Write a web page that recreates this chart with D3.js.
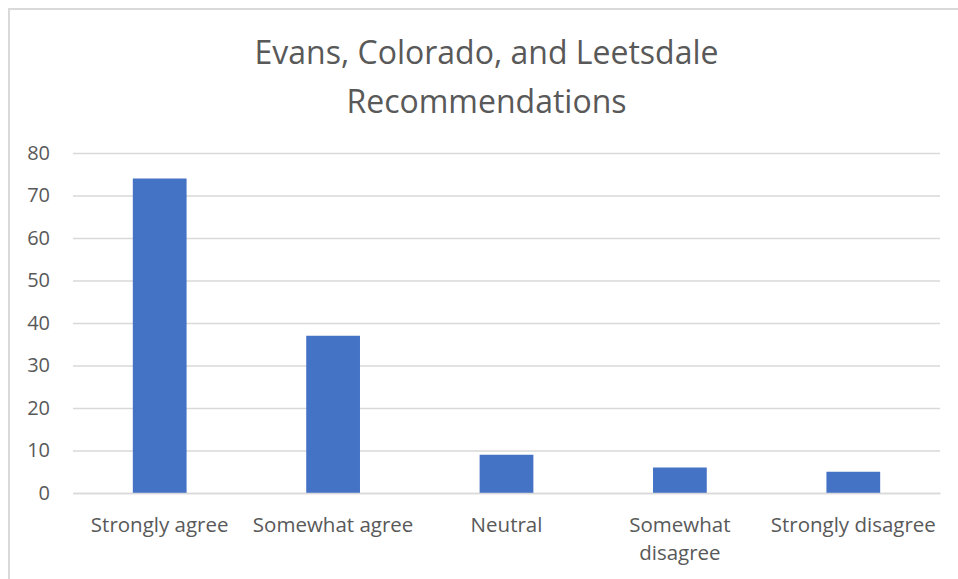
<!DOCTYPE html>
<html>
<head>
<meta charset="utf-8">
<script src="https://cdn.jsdelivr.net/npm/d3@7/dist/d3.min.js"></script>
<style>
  html, body { margin: 0; padding: 0; background: #fff; }
  svg { display: block; }
  text { font-family: "Open Sans", Lato, sans-serif; fill: #595959; }
</style>
</head>
<body>
<svg id="chart" width="958" height="579"></svg>
<script>
const titleLines = ["Evans, Colorado, and Leetsdale", "Recommendations"];
const categories = ["Strongly agree", "Somewhat agree", "Neutral", "Somewhat disagree", "Strongly disagree"];
const categoryLines = [["Strongly agree"], ["Somewhat agree"], ["Neutral"], ["Somewhat", "disagree"], ["Strongly disagree"]];
const values = [74, 37, 9, 6, 5];
const yTicks = [0, 10, 20, 30, 40, 50, 60, 70, 80];

const W = 958, H = 579;
const margin = { left: 73, right: 18, top: 153, bottom: 86 };
const svg = d3.select("#chart");

// chart area border
svg.append("rect")
  .attr("x", 9).attr("y", 9)
  .attr("width", W + 10).attr("height", H + 10)
  .attr("fill", "#fff")
  .attr("stroke", "#d9d9d9").attr("stroke-width", 2);

const x = d3.scaleBand().domain(categories)
  .range([margin.left, W - margin.right])
  .paddingInner(0.69).paddingOuter(0.345);
const y = d3.scaleLinear().domain([0, 80]).range([H - margin.bottom, margin.top]);

// gridlines
const yAxis = d3.axisLeft(y).tickValues(yTicks).tickSize(-(W - margin.right - margin.left)).tickPadding(23);
const gy = svg.append("g").attr("transform", `translate(${margin.left},0)`).call(yAxis);
gy.select(".domain").remove();
gy.selectAll(".tick line").attr("stroke", "#d9d9d9").attr("stroke-width", 1.3);
gy.selectAll(".tick text").style("font-size", "20px").style("font-family", "'Open Sans', sans-serif").attr("fill", "#595959");

// bars
svg.append("g").selectAll("rect").data(values).join("rect")
  .attr("x", (d, i) => x(categories[i]))
  .attr("width", x.bandwidth())
  .attr("y", d => y(d))
  .attr("height", d => y(0) - y(d))
  .attr("fill", "#4472c4");

// baseline
const xAxis = d3.axisBottom(x).tickSize(0).tickFormat("");
const gx = svg.append("g").attr("transform", `translate(0,${y(0)})`).call(xAxis);
gx.select(".domain").attr("stroke", "#d9d9d9").attr("stroke-width", 1.3);

// category labels
const labels = svg.append("g").selectAll("text").data(categories).join("text")
  .attr("text-anchor", "middle")
  .attr("x", d => x(d) + x.bandwidth() / 2)
  .attr("y", y(0) + 39)
  .style("font-size", "20.5px");
labels.each(function(d, i) {
  const t = d3.select(this);
  categoryLines[i].forEach((ln, j) => {
    t.append("tspan").attr("x", x(d) + x.bandwidth() / 2).attr("dy", j === 0 ? 0 : 28).text(ln);
  });
});

// title
const titleX = (W + 9) / 2 + 3;
const title = svg.append("text").attr("text-anchor", "middle")
  .attr("x", titleX).attr("y", 64)
  .style("font-size", "32px");
titleLines.forEach((ln, j) => {
  title.append("tspan").attr("x", titleX).attr("dy", j === 0 ? 0 : 49).text(ln);
});
</script>
</body>
</html>
